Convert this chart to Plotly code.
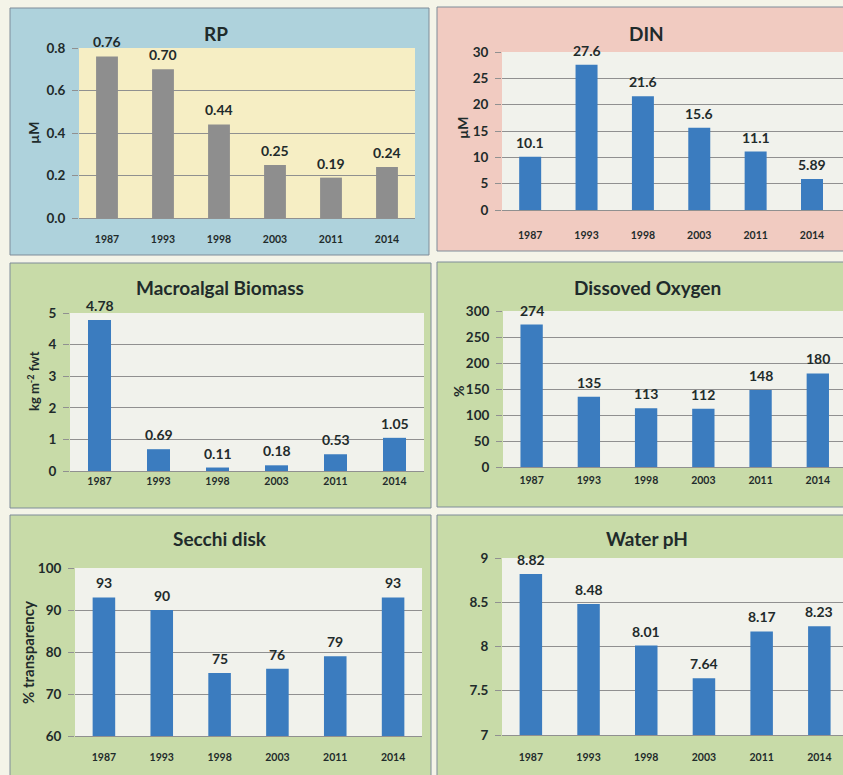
import plotly.graph_objects as go

W, H = 843, 775

years = ['1987', '1993', '1998', '2003', '2011', '2014']
rp_values = [0.76, 0.70, 0.44, 0.25, 0.19, 0.24]
rp_labels = ['0.76', '0.70', '0.44', '0.25', '0.19', '0.24']
din_values = [10.1, 27.6, 21.6, 15.6, 11.1, 5.89]
macro_values = [4.78, 0.69, 0.11, 0.18, 0.53, 1.05]
oxygen_values = [274, 135, 113, 112, 148, 180]
secchi_values = [93, 90, 75, 76, 79, 93]
ph_values = [8.82, 8.48, 8.01, 7.64, 8.17, 8.23]

titles = ['RP', 'DIN', 'Macroalgal Biomass', 'Dissoved Oxygen', 'Secchi disk', 'Water pH']
ytitles = ['µM', 'µM', 'kg m<sup>-2</sup> fwt', '%', '% transparency', '']

FONT = 'Lato'
TXT = '#1f2b2b'
BLUE = '#3b7cbf'
GRAY = '#8e8e8e'
GRID = '#909090'


def px(x):
    return x / W


def py(y):
    return 1 - y / H


def fnt(size):
    return dict(family=FONT, size=size, color=TXT, weight='bold')


# panel specs (pixel geometry only)
panels = [
    dict(box=(10, 8, 429, 255), bg='#aed2dc', plot=(79, 48, 415, 218), pbg='#f6eec4',
         xr=[-0.5, 5.5], yr=[0, 0.8], dt=0.2, fmt='.1f', title=(216, 33), yt=(33, 133), ys=14,
         vals=rp_values, labels=rp_labels, color=GRAY, xstand=11),
    dict(box=(437, 7, 850, 251), bg='#f1cbc1', plot=(502, 52, 843, 210), pbg='#f1f2ec',
         xr=[-0.5, 5.55], yr=[0, 30], dt=5, fmt='', title=(646, 33), yt=(462, 128), ys=14,
         vals=din_values, labels=[str(v) for v in din_values], color=BLUE, xstand=15),
    dict(box=(10, 263, 431, 508), bg='#c8dba8', plot=(70, 313, 424, 471), pbg='#f1f2ec',
         xr=[-0.5, 5.5], yr=[0, 5], dt=1, fmt='', title=(220, 287), yt=(33, 381), ys=13,
         vals=macro_values, labels=[f'{v:.2f}' for v in macro_values], color=BLUE, xstand=0),
    dict(box=(437, 262, 850, 507), bg='#c8dba8', plot=(503, 311, 843, 467), pbg='#f1f2ec',
         xr=[-0.5, 5.44], yr=[0, 300], dt=50, fmt='', title=(647, 287), yt=(458, 392), ys=14,
         vals=oxygen_values, labels=[str(v) for v in oxygen_values], color=BLUE, xstand=3),
    dict(box=(10, 515, 431, 790), bg='#c8dba8', plot=(75, 568, 422, 736), pbg='#f1f2ec',
         xr=[-0.5, 5.5], yr=[60, 100], dt=10, fmt='', title=(220, 538), yt=(28, 652), ys=15,
         vals=secchi_values, labels=[str(v) for v in secchi_values], color=BLUE, xstand=11),
    dict(box=(437, 515, 850, 790), bg='#c8dba8', plot=(502, 558, 843, 735), pbg='#f1f2ec',
         xr=[-0.5, 5.41], yr=[7, 9], dt=0.5, fmt='', title=(647, 538), yt=(460, 650), ys=14,
         vals=ph_values, labels=[str(v) for v in ph_values], color=BLUE, xstand=12),
]

fig = go.Figure()
shapes = []
annotations = []
layout = {}

for i, p in enumerate(panels):
    n = '' if i == 0 else str(i + 1)
    xa, ya = 'x' + n, 'y' + n
    bx0, by0, bx1, by1 = p['box']
    shapes.append(dict(type='rect', xref='paper', yref='paper', layer='below',
                       x0=px(bx0), x1=px(bx1), y0=py(by1), y1=py(by0),
                       fillcolor=p['bg'], line=dict(color='#7f8c99', width=1)))
    lx0, ly0, lx1, ly1 = p['plot']
    shapes.append(dict(type='rect', xref='paper', yref='paper', layer='below',
                       x0=px(lx0), x1=px(lx1), y0=py(ly1), y1=py(ly0),
                       fillcolor=p['pbg'], line=dict(width=0)))
    base = p['yr'][0]
    fig.add_trace(go.Bar(x=years, y=[v - base for v in p['vals']], base=base,
                         marker=dict(color=p['color'], line=dict(width=0)),
                         xaxis=xa, yaxis=ya, showlegend=False, cliponaxis=False,
                         hoverinfo='skip'))
    for j, (v, lab) in enumerate(zip(p['vals'], p['labels'])):
        annotations.append(dict(x=j, y=v, xref=xa, yref=ya, text=lab, showarrow=False,
                                xanchor='center', yanchor='bottom', yshift=4,
                                font=fnt(14)))
    layout['xaxis' + n] = dict(domain=[px(lx0), px(min(lx1, W))], anchor=ya,
                               range=p['xr'], type='category', showgrid=False,
                               showline=True, linecolor=GRID, linewidth=1,
                               ticks='', ticklabelstandoff=p['xstand'], automargin=False,
                               tickfont=fnt(10.5))
    yax = dict(domain=[py(ly1), py(ly0)], anchor=xa, range=p['yr'], dtick=p['dt'],
               tick0=p['yr'][0], showgrid=True, gridcolor=GRID, gridwidth=1,
               zeroline=False, showline=False, ticks='outside', ticklen=6,
               tickcolor=GRID, ticklabelstandoff=4, automargin=False, tickfont=fnt(13.5))
    if p['fmt']:
        yax['tickformat'] = p['fmt']
    layout['yaxis' + n] = yax
    tx, ty = p['title']
    annotations.append(dict(x=px(tx), y=py(ty), xref='paper', yref='paper', text=titles[i],
                            showarrow=False, xanchor='center', yanchor='middle',
                            font=fnt(19)))
    if ytitles[i]:
        yx, yy = p['yt']
        annotations.append(dict(x=px(yx), y=py(yy), xref='paper', yref='paper',
                                text=ytitles[i], showarrow=False, textangle=-90,
                                xanchor='center', yanchor='middle', font=fnt(p['ys'])))

fig.update_layout(
    width=W, height=H, margin=dict(l=0, r=0, t=0, b=0, autoexpand=False),
    paper_bgcolor='#f4f4e8', plot_bgcolor='rgba(0,0,0,0)',
    bargap=0.61, shapes=shapes, annotations=annotations,
    font=dict(family=FONT, color=TXT),
    **layout,
)

fig.write_html('out.html', config={'displayModeBar': False})
